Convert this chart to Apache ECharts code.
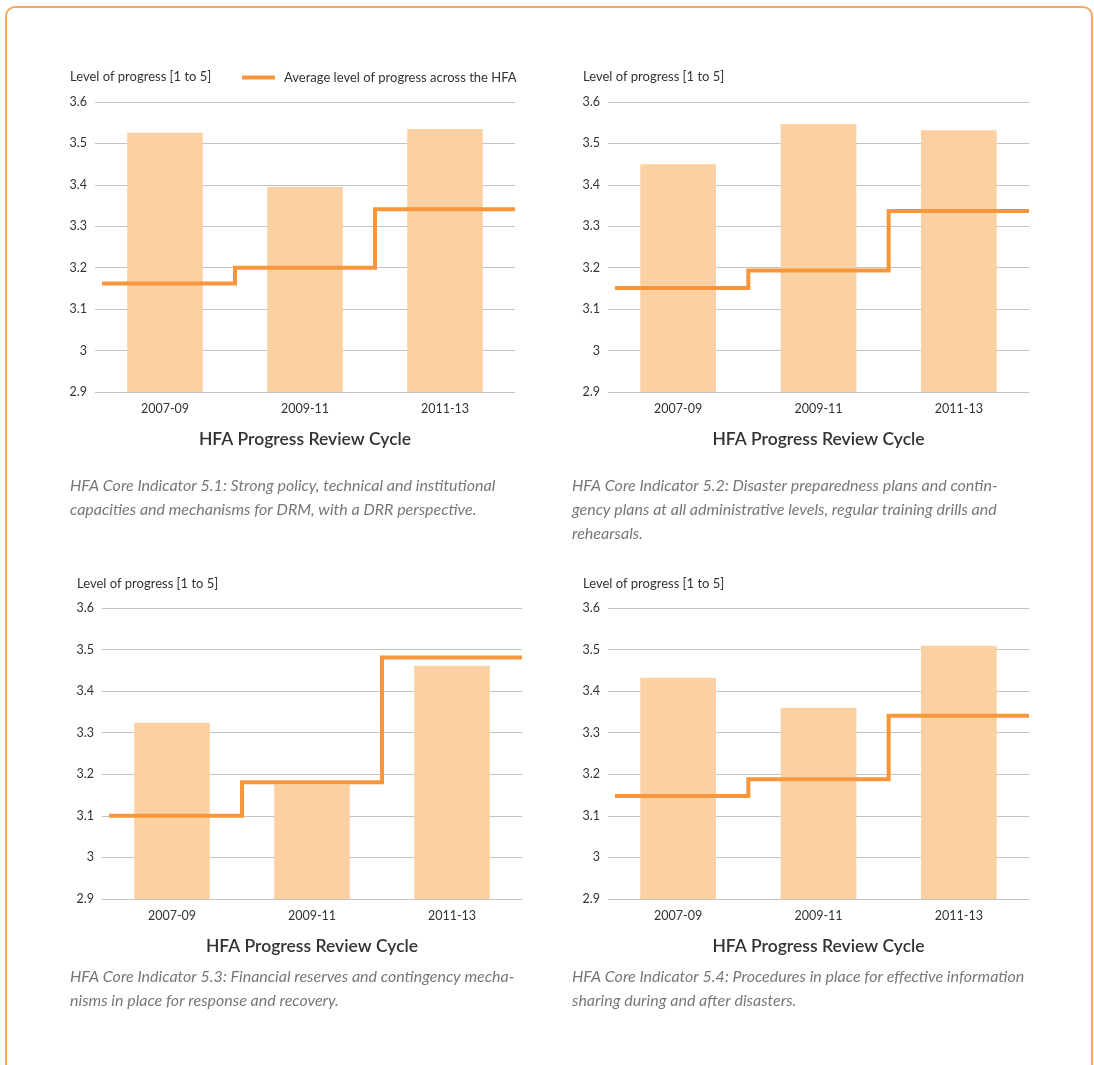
<!DOCTYPE html>
<html>
<head>
<meta charset="utf-8">
<script src="https://cdn.jsdelivr.net/npm/echarts@6/dist/echarts.min.js"></script>
<style>
  html, body { margin: 0; padding: 0; background: #fff; }
  #frame { position: absolute; left: 5px; top: 6px; width: 1088px; height: 1100px;
           border: 2px solid #F8A65C; border-radius: 10px; box-sizing: border-box; }
  #chart { position: absolute; left: 0; top: 0; width: 1094px; height: 1065px; }
</style>
</head>
<body>
<div id="frame"></div>
<div id="chart"></div>
<script>
// ---- data ----
const categories = ['2007-09', '2009-11', '2011-13'];
const yMin = 2.9, yMax = 3.6, yStep = 0.1;

const bars51 = [3.526, 3.395, 3.535];
const avg51  = [3.162, 3.200, 3.341];
const bars52 = [3.450, 3.547, 3.532];
const avg52  = [3.151, 3.193, 3.337];
const bars53 = [3.324, 3.176, 3.461];
const avg53  = [3.100, 3.181, 3.481];
const bars54 = [3.432, 3.360, 3.509];
const avg54  = [3.148, 3.188, 3.341];

const yAxisTitle = 'Level of progress [1 to 5]';
const xAxisTitle = 'HFA Progress Review Cycle';
const legendLabel = 'Average level of progress across the HFA';

const caption51 = 'HFA Core Indicator 5.1: Strong policy, technical and institutional\ncapacities and mechanisms for DRM, with a DRR perspective.';
const caption52 = 'HFA Core Indicator 5.2: Disaster preparedness plans and contin-\ngency plans at all administrative levels, regular training drills and\nrehearsals.';
const caption53 = 'HFA Core Indicator 5.3: Financial reserves and contingency mecha-\nnisms in place for response and recovery.';
const caption54 = 'HFA Core Indicator 5.4: Procedures in place for effective information\nsharing during and after disasters.';

// ---- layout / style ----
const FONT = 'Lato';
const TEXT = '#333333';
const BAR_COLOR = '#FBD1A3';
const LINE_COLOR = '#F7963A';
const GRID_LINE = '#C4C4C4';
const LINE_START = -0.45;

const panels = [
  { bars: bars51, avg: avg51, caption: caption51, grid: { left: 95, top: 102, width: 420, height: 290 }, yTitle: [70, 70], cap: [70, 474], name: legendLabel },
  { bars: bars52, avg: avg52, caption: caption52, grid: { left: 608, top: 102, width: 421, height: 290 }, yTitle: [583, 70], cap: [572, 474], name: 'avg52' },
  { bars: bars53, avg: avg53, caption: caption53, grid: { left: 102, top: 608, width: 420, height: 291 }, yTitle: [77, 577], cap: [70, 965], name: 'avg53' },
  { bars: bars54, avg: avg54, caption: caption54, grid: { left: 608, top: 608, width: 421, height: 291 }, yTitle: [583, 577], cap: [572, 965], name: 'avg54' }
];

function stepPoints(avg) {
  const pts = [];
  avg.forEach((v, i) => {
    pts.push([i === 0 ? LINE_START : i - 0.5, v]);
    pts.push([i + 0.5, v]);
  });
  return pts;
}

const grid = [], xAxis = [], yAxis = [], series = [], title = [];
panels.forEach((p, i) => {
  grid.push(Object.assign({ containLabel: false }, p.grid));
  xAxis.push({
    type: 'category', gridIndex: i, data: categories,
    axisLine: { show: false }, axisTick: { show: false },
    axisLabel: { color: TEXT, fontFamily: FONT, fontSize: 12.5, margin: 10 },
    name: xAxisTitle, nameLocation: 'middle', nameGap: 38,
    nameTextStyle: { color: TEXT, fontFamily: FONT, fontSize: 17.5, fontWeight: 600 }
  });
  xAxis.push({
    type: 'value', gridIndex: i, min: -0.5, max: 2.5, show: false
  });
  yAxis.push({
    type: 'value', gridIndex: i, min: yMin, max: yMax, interval: yStep,
    axisLine: { show: false }, axisTick: { show: false },
    axisLabel: { color: TEXT, fontFamily: FONT, fontSize: 12.5, margin: 8 },
    splitLine: { show: true, lineStyle: { color: GRID_LINE, width: 1 } }
  });
  series.push({
    type: 'bar', xAxisIndex: 2 * i, yAxisIndex: i, data: p.bars,
    barWidth: '54%', itemStyle: { color: BAR_COLOR }, silent: true, z: 2
  });
  series.push({
    type: 'line', name: p.name, xAxisIndex: 2 * i + 1, yAxisIndex: i,
    data: stepPoints(p.avg), showSymbol: false, symbol: 'none',
    lineStyle: { color: LINE_COLOR, width: 4, join: 'miter', cap: 'butt' },
    itemStyle: { color: LINE_COLOR }, z: 3, silent: true
  });
  title.push({
    text: yAxisTitle, left: p.yTitle[0], top: p.yTitle[1], padding: 0,
    textStyle: { color: TEXT, fontFamily: FONT, fontSize: 13, fontWeight: 'normal' }
  });
  title.push({
    text: p.caption, left: p.cap[0], top: p.cap[1], padding: 0,
    textStyle: { color: '#777777', fontFamily: FONT, fontSize: 16, fontStyle: 'italic',
                 fontWeight: 'normal', lineHeight: 24 }
  });
});

const chart = echarts.init(document.getElementById('chart'), null, { renderer: 'canvas' });
chart.setOption({
  animation: false,
  backgroundColor: 'transparent',
  title: title,
  legend: {
    data: [legendLabel], left: 242, top: 71, icon: 'rect', itemWidth: 33, itemHeight: 4,
    padding: 0, selectedMode: false,
    textStyle: { color: TEXT, fontFamily: FONT, fontSize: 13, padding: [0, 0, 0, 4] }
  },
  grid: grid, xAxis: xAxis, yAxis: yAxis, series: series
});
</script>
</body>
</html>
